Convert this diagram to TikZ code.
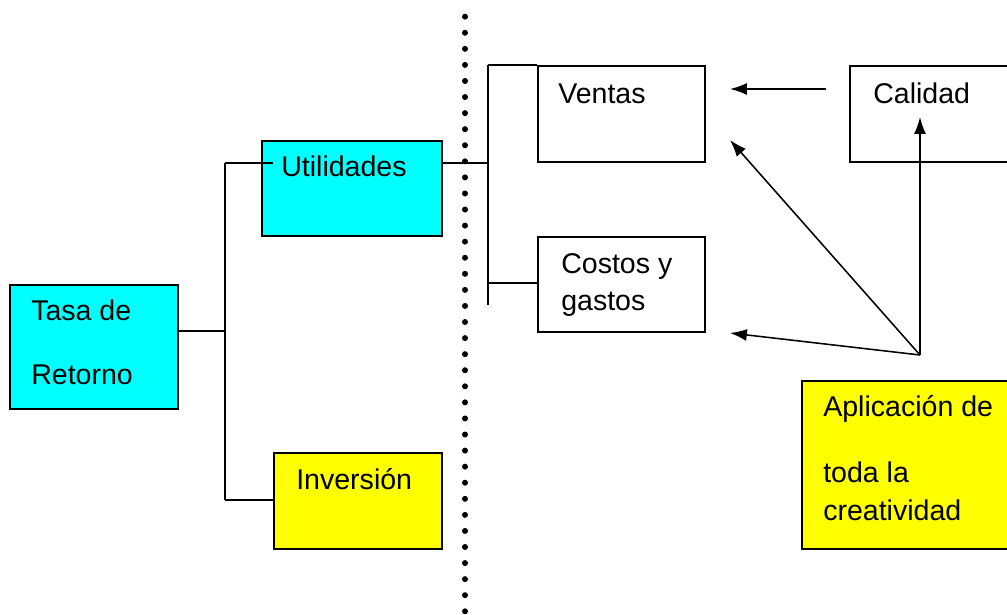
\documentclass[tikz,border=0pt]{standalone}
\usepackage{fontspec}
\setmainfont{Liberation Sans}
\usetikzlibrary{arrows.meta}
\definecolor{cajaazul}{RGB}{0,255,255}
\definecolor{cajaamarilla}{RGB}{255,255,0}
\tikzset{
  caja/.style={draw=black, line width=1.3pt, rectangle, inner sep=0pt, anchor=north west},
  texto/.style={anchor=base west, inner sep=0pt, font=\fontsize{20.3}{24}\selectfont},
  linea/.style={line width=1.3pt},
  flecha/.style={line width=1.1pt, -{Latex[length=12pt,width=8.5pt]}},
  punto/.style={fill=black}
}
\begin{document}
\begin{tikzpicture}[x=0.025cm,y=-0.025cm]
  \useasboundingbox (0,0) rectangle (1007,615);
  \clip (0,0) rectangle (1007,615);
% Cajas
  \node[caja, fill=cajaazul, minimum width=4.2cm, minimum height=3.1cm] (tasa) at (9,284) {};
  \node[caja, fill=cajaazul, minimum width=4.5cm, minimum height=2.375cm] (util) at (261,140) {};
  \node[caja, fill=cajaamarilla, minimum width=4.2cm, minimum height=2.4cm] (inver) at (273,452) {};
  \node[caja, minimum width=4.175cm, minimum height=2.4cm] (ventas) at (537,65) {};
  \node[caja, minimum width=4.175cm, minimum height=2.375cm] (costos) at (537,236) {};
  \node[caja, minimum width=4.275cm, minimum height=2.4cm] (calidad) at (849,65) {};
  \node[caja, fill=cajaamarilla, minimum width=5.475cm, minimum height=4.2cm] (aplic) at (801,380) {};
% Textos
  \node[texto] (tasaA) at (31,321) {Tasa de};
  \node[texto] (tasaB) at (31,385) {Retorno};
  \node[texto] (utilT) at (281,177) {Utilidades};
  \node[texto] (inverT) at (296,490) {Inversión};
  \node[texto] (ventasT) at (558,104) {Ventas};
  \node[texto] (costosA) at (561,274) {Costos y};
  \node[texto] (costosB) at (561,311) {gastos};
  \node[texto] (calidadT) at (873,104) {Calidad};
  \node[texto] (aplicA) at (823,417) {Aplicación de};
  \node[texto] (aplicB) at (823,483) {toda la};
  \node[texto] (aplicC) at (823,521) {creatividad};
% Arbol izquierdo
  \coordinate (jl) at (225,331);
  \coordinate (lt) at (225,163);
  \coordinate (lb) at (225,500);
  \coordinate (ue) at (273,163);
  \draw[linea] (tasa.east |- jl) -- (jl);
  \draw[linea] (lt) -- (lb);
  \draw[linea] (lt) -- (ue);
  \draw[linea] (lb) -- (inver.west |- lb);
% Arbol derecho
  \coordinate (rm) at (488,163);
  \coordinate (rt) at (488,65);
  \coordinate (rb) at (488,305);
  \coordinate (rc) at (488,283);
  \draw[linea] (util.east |- rm) -- (rm);
  \draw[linea] (rt) -- (rb);
  \draw[linea] (rt) -- (ventas.north west);
  \draw[linea] (rc) -- (costos.west |- rc);
% Linea punteada
  \foreach \k in {0,...,37}
    \fill[punto] (465,16.7+16.07*\k) circle (3);
% Flechas
  \coordinate (apex) at (920,355);
  \coordinate (cq) at (826,89);
  \coordinate (cv) at (730,89);
  \coordinate (tv) at (730,140);
  \coordinate (tc) at (730,333);
  \coordinate (tq) at (920,117);
  \draw[flecha] (cq) -- (cv);
  \draw[flecha] (apex) -- (tq);
  \draw[flecha] (apex) -- (tv);
  \draw[flecha] (apex) -- (tc);
\end{tikzpicture}
\end{document}
